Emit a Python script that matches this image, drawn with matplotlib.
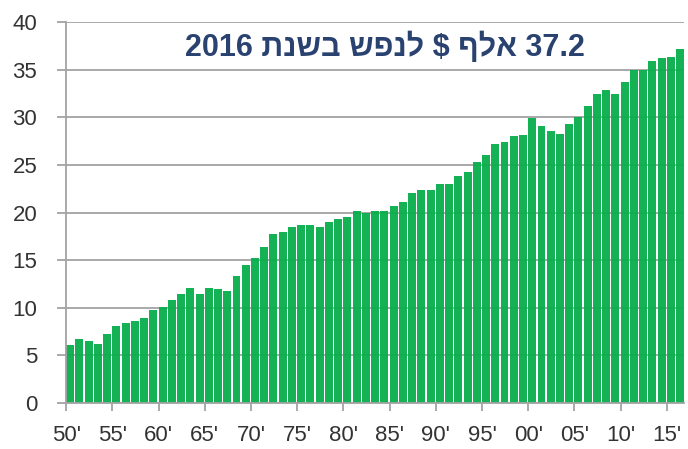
import numpy as np
import matplotlib
matplotlib.use("Agg")
import matplotlib.pyplot as plt

# GDP per capita (thousand $), 1950-2016
years = list(range(1950, 2017))
values = [6.1, 6.75, 6.55, 6.25, 7.25, 8.1, 8.4, 8.6, 8.95, 9.75,
          10.1, 10.8, 11.45, 12.1, 11.45, 12.1, 11.95, 11.8, 13.3, 14.5,
          15.2, 16.35, 17.8, 18.0, 18.5, 18.7, 18.7, 18.5, 19.05, 19.3,
          19.5, 20.15, 20.0, 20.2, 20.2, 20.7, 21.1, 22.05, 22.4, 22.4,
          23.05, 23.05, 23.9, 24.3, 25.3, 26.1, 27.2, 27.45, 28.0, 28.15,
          29.9, 29.1, 28.6, 28.3, 29.3, 30.0, 31.2, 32.5, 32.85, 32.5,
          33.7, 35.0, 35.0, 35.9, 36.25, 36.4, 37.2]
tick_years = list(range(1950, 2016, 5))
tick_labels = ["%02d'" % (y % 100) for y in tick_years]
y_ticks = [0, 5, 10, 15, 20, 25, 30, 35, 40]
title = "37.2 אלף $ לנפש בשנת 2016"


def visual_order(text):
    # matplotlib has no bidi support: flip word order and hebrew words
    out = []
    for w in reversed(text.split(" ")):
        if any("\u0590" <= c <= "\u05ff" for c in w):
            w = w[::-1]
        out.append(w)
    return " ".join(out)


plt.rcParams['font.family'] = ['Liberation Sans', 'DejaVu Sans']

fig = plt.figure(figsize=(6.88, 4.49), dpi=100)
ax = fig.add_axes([0.0955, 0.1024, 0.898, 0.848])

x = np.array(years) - years[0]
ax.bar(x, values, width=0.86, align='edge', color='#0aaf4e', alpha=0.96,
       linewidth=0, zorder=2)

ax.set_xlim(-0.05, len(years) - 0.2)
ax.set_ylim(0, 40)
ax.set_yticks(y_ticks)
ax.set_xticks([y - years[0] for y in tick_years])
ax.set_xticklabels(tick_labels)

ax.yaxis.grid(True, color='#a3a3a3', linewidth=1.3, zorder=1)
ax.set_axisbelow(True)

for side in ['top', 'right']:
    ax.spines[side].set_visible(False)
for side in ['left', 'bottom']:
    ax.spines[side].set_color('#a3a3a3')
    ax.spines[side].set_linewidth(1.3)

ax.tick_params(axis='y', length=6.5, width=1.3, color='#a3a3a3', pad=14,
               labelsize=16, labelcolor='#333333')
ax.tick_params(axis='x', length=6, width=1.3, color='#a3a3a3', pad=10,
               labelsize=16, labelcolor='#333333')

fig.text(385 / 688, 1 - 47 / 449, visual_order(title), ha='center', va='center',
         fontsize=22, fontweight='bold', color='#2a4270')

fig.savefig("out.png", dpi=100, facecolor='white')
